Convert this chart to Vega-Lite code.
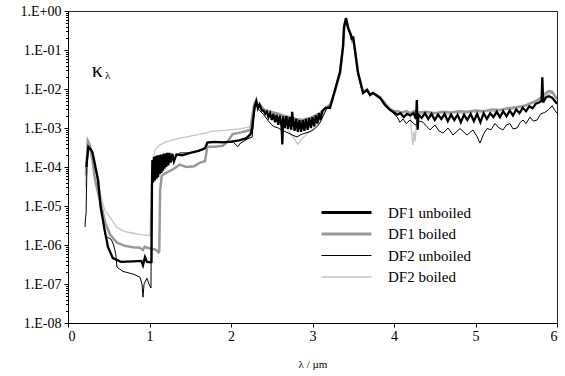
{
  "$schema": "https://vega.github.io/schema/vega-lite/v6.json",
  "width": 489,
  "height": 312,
  "autosize": {"type": "none"},
  "padding": {"left": 68, "top": 11, "right": 8, "bottom": 53},
  "background": "white",
  "config": {
    "view": {"stroke": "#222", "strokeWidth": 1},
    "font": "Times New Roman",
    "axis": {"labelFont": "Times New Roman", "titleFont": "Times New Roman", "labelColor": "black", "titleColor": "black", "domainColor": "black", "tickColor": "black", "grid": false, "titleFontWeight": "normal"},
    "legend": {"labelFont": "Times New Roman"},
    "text": {"font": "Times New Roman"}
  },
  "data": {"values": [
    {"s":"DF2 boiled","x":0.215,"k":3e-5},{"s":"DF2 boiled","x":0.235,"k":5.5e-4},{"s":"DF2 boiled","x":0.26,"k":4.5e-4},{"s":"DF2 boiled","x":0.29,"k":2e-4},{"s":"DF2 boiled","x":0.33,"k":6e-5},{"s":"DF2 boiled","x":0.393,"k":2.15e-5},{"s":"DF2 boiled","x":0.45,"k":8e-6},{"s":"DF2 boiled","x":0.515,"k":5.2e-6},{"s":"DF2 boiled","x":0.6,"k":2.8e-6},{"s":"DF2 boiled","x":0.7,"k":2.2e-6},{"s":"DF2 boiled","x":0.8,"k":2.0e-6},{"s":"DF2 boiled","x":0.9,"k":1.85e-6},{"s":"DF2 boiled","x":1.006,"k":1.75e-6},{"s":"DF2 boiled","x":1.02,"k":2e-5},{"s":"DF2 boiled","x":1.04,"k":1.5e-4},{"s":"DF2 boiled","x":1.07,"k":2.8e-4},{"s":"DF2 boiled","x":1.13,"k":3.7e-4},{"s":"DF2 boiled","x":1.2,"k":4.4e-4},{"s":"DF2 boiled","x":1.3,"k":5.0e-4},{"s":"DF2 boiled","x":1.374,"k":5.5e-4},{"s":"DF2 boiled","x":1.5,"k":6.2e-4},{"s":"DF2 boiled","x":1.7,"k":7.5e-4},{"s":"DF2 boiled","x":1.75,"k":8.2e-4},{"s":"DF2 boiled","x":1.95,"k":8.8e-4},{"s":"DF2 boiled","x":2.1,"k":9.5e-4},{"s":"DF2 boiled","x":2.233,"k":1.06e-3},{"s":"DF2 boiled","x":2.26,"k":2.5e-3},{"s":"DF2 boiled","x":2.28,"k":4.5e-3},{"s":"DF2 boiled","x":2.3,"k":5.0e-3},{"s":"DF2 boiled","x":2.32,"k":3.8e-3},{"s":"DF2 boiled","x":2.35,"k":4.2e-3},{"s":"DF2 boiled","x":2.4,"k":3.0e-3},{"s":"DF2 boiled","x":2.5,"k":2.0e-3},{"s":"DF2 boiled","x":2.6,"k":1.3e-3},{"s":"DF2 boiled","x":2.7,"k":9e-4},{"s":"DF2 boiled","x":2.76,"k":6e-4},{"s":"DF2 boiled","x":2.82,"k":3.8e-4},{"s":"DF2 boiled","x":2.88,"k":5.5e-4},{"s":"DF2 boiled","x":2.95,"k":7.5e-4},{"s":"DF2 boiled","x":3.02,"k":1.0e-3},{"s":"DF2 boiled","x":3.08,"k":1.5e-3},{"s":"DF2 boiled","x":3.14,"k":2.6e-3},{"s":"DF2 boiled","x":3.19,"k":3.6e-3},{"s":"DF2 boiled","x":3.25,"k":6e-3},{"s":"DF2 boiled","x":3.3,"k":0.014},{"s":"DF2 boiled","x":3.34,"k":0.03},{"s":"DF2 boiled","x":3.374,"k":0.12},{"s":"DF2 boiled","x":3.39,"k":0.4},{"s":"DF2 boiled","x":3.411,"k":0.64},{"s":"DF2 boiled","x":3.436,"k":0.38},{"s":"DF2 boiled","x":3.472,"k":0.25},{"s":"DF2 boiled","x":3.485,"k":0.19},{"s":"DF2 boiled","x":3.5,"k":0.22},{"s":"DF2 boiled","x":3.521,"k":0.1},{"s":"DF2 boiled","x":3.558,"k":0.027},{"s":"DF2 boiled","x":3.62,"k":0.0085},{"s":"DF2 boiled","x":3.669,"k":0.0095},{"s":"DF2 boiled","x":3.706,"k":0.0072},{"s":"DF2 boiled","x":3.742,"k":0.008},{"s":"DF2 boiled","x":3.828,"k":0.006},{"s":"DF2 boiled","x":3.89,"k":0.0042},{"s":"DF2 boiled","x":3.95,"k":0.0031},{"s":"DF2 boiled","x":4.05,"k":0.0026},{"s":"DF2 boiled","x":4.15,"k":0.0024},{"s":"DF2 boiled","x":4.2,"k":0.0022},{"s":"DF2 boiled","x":4.22,"k":0.0006},{"s":"DF2 boiled","x":4.233,"k":0.00037},{"s":"DF2 boiled","x":4.245,"k":0.0008},{"s":"DF2 boiled","x":4.26,"k":0.00045},{"s":"DF2 boiled","x":4.28,"k":0.0018},{"s":"DF2 boiled","x":4.35,"k":0.0024},{"s":"DF2 boiled","x":4.45,"k":0.0022},{"s":"DF2 boiled","x":4.55,"k":0.0025},{"s":"DF2 boiled","x":4.65,"k":0.0022},{"s":"DF2 boiled","x":4.75,"k":0.0025},{"s":"DF2 boiled","x":4.85,"k":0.0023},{"s":"DF2 boiled","x":4.95,"k":0.0026},{"s":"DF2 boiled","x":5.05,"k":0.0024},{"s":"DF2 boiled","x":5.15,"k":0.0027},{"s":"DF2 boiled","x":5.25,"k":0.0026},{"s":"DF2 boiled","x":5.35,"k":0.003},{"s":"DF2 boiled","x":5.45,"k":0.003},{"s":"DF2 boiled","x":5.55,"k":0.0034},{"s":"DF2 boiled","x":5.65,"k":0.004},{"s":"DF2 boiled","x":5.7,"k":0.0045},{"s":"DF2 boiled","x":5.8,"k":0.0055},{"s":"DF2 boiled","x":5.9,"k":0.0075},{"s":"DF2 boiled","x":5.95,"k":0.008},{"s":"DF2 boiled","x":6.0,"k":0.006},

    {"s":"DF1 boiled","x":0.22,"k":6e-5},{"s":"DF1 boiled","x":0.245,"k":4.5e-4},{"s":"DF1 boiled","x":0.27,"k":3.5e-4},{"s":"DF1 boiled","x":0.3,"k":1.5e-4},{"s":"DF1 boiled","x":0.33,"k":5e-5},{"s":"DF1 boiled","x":0.37,"k":2.1e-5},{"s":"DF1 boiled","x":0.42,"k":8e-6},{"s":"DF1 boiled","x":0.46,"k":3.5e-6},{"s":"DF1 boiled","x":0.52,"k":1.8e-6},{"s":"DF1 boiled","x":0.6,"k":1.15e-6},{"s":"DF1 boiled","x":0.7,"k":9.5e-7},{"s":"DF1 boiled","x":0.8,"k":8.8e-7},{"s":"DF1 boiled","x":0.88,"k":8.5e-7},{"s":"DF1 boiled","x":0.92,"k":7.5e-7},{"s":"DF1 boiled","x":0.94,"k":9e-7},{"s":"DF1 boiled","x":0.97,"k":8.5e-7},{"s":"DF1 boiled","x":1.03,"k":8.0e-7},{"s":"DF1 boiled","x":1.08,"k":7.5e-7},{"s":"DF1 boiled","x":1.11,"k":6.5e-7},{"s":"DF1 boiled","x":1.12,"k":7e-7},{"s":"DF1 boiled","x":1.13,"k":2.5e-5},{"s":"DF1 boiled","x":1.15,"k":6e-5},{"s":"DF1 boiled","x":1.2,"k":7e-5},{"s":"DF1 boiled","x":1.25,"k":8e-5},{"s":"DF1 boiled","x":1.3,"k":9e-5},{"s":"DF1 boiled","x":1.37,"k":1.15e-4},{"s":"DF1 boiled","x":1.45,"k":1.0e-4},{"s":"DF1 boiled","x":1.55,"k":1.05e-4},{"s":"DF1 boiled","x":1.62,"k":1.3e-4},{"s":"DF1 boiled","x":1.68,"k":1.4e-4},{"s":"DF1 boiled","x":1.71,"k":3.3e-4},{"s":"DF1 boiled","x":1.8,"k":3.3e-4},{"s":"DF1 boiled","x":1.9,"k":3.5e-4},{"s":"DF1 boiled","x":1.96,"k":4.5e-4},{"s":"DF1 boiled","x":2.02,"k":7.0e-4},{"s":"DF1 boiled","x":2.1,"k":7.5e-4},{"s":"DF1 boiled","x":2.2,"k":8.5e-4},{"s":"DF1 boiled","x":2.24,"k":9e-4},{"s":"DF1 boiled","x":2.27,"k":2.5e-3},{"s":"DF1 boiled","x":2.29,"k":4.0e-3},{"s":"DF1 boiled","x":2.31,"k":5.2e-3},{"s":"DF1 boiled","x":2.33,"k":3.5e-3},{"s":"DF1 boiled","x":2.36,"k":3.8e-3},{"s":"DF1 boiled","x":2.4,"k":3.0e-3},{"s":"DF1 boiled","x":2.48,"k":2.6e-3},{"s":"DF1 boiled","x":2.56,"k":2.4e-3},{"s":"DF1 boiled","x":2.64,"k":2.1e-3},{"s":"DF1 boiled","x":2.72,"k":1.9e-3},{"s":"DF1 boiled","x":2.8,"k":1.7e-3},{"s":"DF1 boiled","x":2.88,"k":1.6e-3},{"s":"DF1 boiled","x":2.96,"k":1.8e-3},{"s":"DF1 boiled","x":3.04,"k":2.1e-3},{"s":"DF1 boiled","x":3.1,"k":2.5e-3},{"s":"DF1 boiled","x":3.16,"k":3.3e-3},{"s":"DF1 boiled","x":3.22,"k":4.0e-3},{"s":"DF1 boiled","x":3.28,"k":9.4e-3},{"s":"DF1 boiled","x":3.34,"k":0.027},{"s":"DF1 boiled","x":3.375,"k":0.12},{"s":"DF1 boiled","x":3.39,"k":0.39},{"s":"DF1 boiled","x":3.41,"k":0.62},{"s":"DF1 boiled","x":3.44,"k":0.37},{"s":"DF1 boiled","x":3.47,"k":0.24},{"s":"DF1 boiled","x":3.485,"k":0.18},{"s":"DF1 boiled","x":3.5,"k":0.22},{"s":"DF1 boiled","x":3.52,"k":0.1},{"s":"DF1 boiled","x":3.56,"k":0.026},{"s":"DF1 boiled","x":3.62,"k":0.0085},{"s":"DF1 boiled","x":3.67,"k":0.0098},{"s":"DF1 boiled","x":3.71,"k":0.0072},{"s":"DF1 boiled","x":3.74,"k":0.0079},{"s":"DF1 boiled","x":3.83,"k":0.0062},{"s":"DF1 boiled","x":3.89,"k":0.0043},{"s":"DF1 boiled","x":3.95,"k":0.0031},{"s":"DF1 boiled","x":4.0,"k":0.0027},{"s":"DF1 boiled","x":4.05,"k":0.0027},{"s":"DF1 boiled","x":4.1,"k":0.0025},{"s":"DF1 boiled","x":4.15,"k":0.0027},{"s":"DF1 boiled","x":4.2,"k":0.0024},{"s":"DF1 boiled","x":4.25,"k":0.0027},{"s":"DF1 boiled","x":4.3,"k":0.0025},{"s":"DF1 boiled","x":4.4,"k":0.0026},{"s":"DF1 boiled","x":4.5,"k":0.0024},{"s":"DF1 boiled","x":4.6,"k":0.0026},{"s":"DF1 boiled","x":4.7,"k":0.0025},{"s":"DF1 boiled","x":4.8,"k":0.0027},{"s":"DF1 boiled","x":4.9,"k":0.0026},{"s":"DF1 boiled","x":5.0,"k":0.0028},{"s":"DF1 boiled","x":5.1,"k":0.0027},{"s":"DF1 boiled","x":5.2,"k":0.003},{"s":"DF1 boiled","x":5.3,"k":0.0029},{"s":"DF1 boiled","x":5.4,"k":0.0032},{"s":"DF1 boiled","x":5.5,"k":0.0034},{"s":"DF1 boiled","x":5.6,"k":0.0037},{"s":"DF1 boiled","x":5.7,"k":0.0045},{"s":"DF1 boiled","x":5.75,"k":0.005},{"s":"DF1 boiled","x":5.8,"k":0.006},{"s":"DF1 boiled","x":5.85,"k":0.0075},{"s":"DF1 boiled","x":5.9,"k":0.0088},{"s":"DF1 boiled","x":5.94,"k":0.0085},{"s":"DF1 boiled","x":5.97,"k":0.0068},{"s":"DF1 boiled","x":6.0,"k":0.0055},

    {"s":"DF2 unboiled","x":0.209,"k":2.9e-6},{"s":"DF2 unboiled","x":0.215,"k":5e-6},{"s":"DF2 unboiled","x":0.222,"k":6.6e-6},{"s":"DF2 unboiled","x":0.232,"k":1e-4},{"s":"DF2 unboiled","x":0.245,"k":3.0e-4},{"s":"DF2 unboiled","x":0.26,"k":3.2e-4},{"s":"DF2 unboiled","x":0.28,"k":2.6e-4},{"s":"DF2 unboiled","x":0.3,"k":2.3e-4},{"s":"DF2 unboiled","x":0.36,"k":5e-5},{"s":"DF2 unboiled","x":0.4,"k":1.2e-5},{"s":"DF2 unboiled","x":0.43,"k":4e-6},{"s":"DF2 unboiled","x":0.454,"k":1.8e-6},{"s":"DF2 unboiled","x":0.49,"k":1.55e-6},{"s":"DF2 unboiled","x":0.53,"k":1.4e-6},{"s":"DF2 unboiled","x":0.56,"k":1.0e-6},{"s":"DF2 unboiled","x":0.585,"k":6e-7},{"s":"DF2 unboiled","x":0.601,"k":2.7e-7},{"s":"DF2 unboiled","x":0.675,"k":2.1e-7},{"s":"DF2 unboiled","x":0.798,"k":1.8e-7},{"s":"DF2 unboiled","x":0.883,"k":1.5e-7},{"s":"DF2 unboiled","x":0.908,"k":1.0e-7},{"s":"DF2 unboiled","x":0.92,"k":4.6e-8},{"s":"DF2 unboiled","x":0.933,"k":1.0e-7},{"s":"DF2 unboiled","x":0.969,"k":1.4e-7},{"s":"DF2 unboiled","x":0.994,"k":1.0e-7},{"s":"DF2 unboiled","x":1.018,"k":7.9e-8},{"s":"DF2 unboiled","x":1.025,"k":3e-5},{"s":"DF2 unboiled","x":1.04,"k":6e-5},{"s":"DF2 unboiled","x":1.06,"k":1.2e-4},{"s":"DF2 unboiled","x":1.1,"k":9e-5},{"s":"DF2 unboiled","x":1.15,"k":1.4e-4},{"s":"DF2 unboiled","x":1.2,"k":1.3e-4},{"s":"DF2 unboiled","x":1.3,"k":1.6e-4},{"s":"DF2 unboiled","x":1.37,"k":2.3e-4},{"s":"DF2 unboiled","x":1.5,"k":2.3e-4},{"s":"DF2 unboiled","x":1.62,"k":2.6e-4},{"s":"DF2 unboiled","x":1.68,"k":3.0e-4},{"s":"DF2 unboiled","x":1.72,"k":4.4e-4},{"s":"DF2 unboiled","x":1.85,"k":4.4e-4},{"s":"DF2 unboiled","x":1.95,"k":4.3e-4},{"s":"DF2 unboiled","x":2.03,"k":4.3e-4},{"s":"DF2 unboiled","x":2.086,"k":3.3e-4},{"s":"DF2 unboiled","x":2.11,"k":4.0e-4},{"s":"DF2 unboiled","x":2.2,"k":5.2e-4},{"s":"DF2 unboiled","x":2.26,"k":5.9e-4},{"s":"DF2 unboiled","x":2.28,"k":2e-3},{"s":"DF2 unboiled","x":2.3,"k":4.0e-3},{"s":"DF2 unboiled","x":2.32,"k":3.5e-3},{"s":"DF2 unboiled","x":2.34,"k":3.0e-3},{"s":"DF2 unboiled","x":2.4,"k":2.2e-3},{"s":"DF2 unboiled","x":2.46,"k":1.5e-3},{"s":"DF2 unboiled","x":2.52,"k":1.1e-3},{"s":"DF2 unboiled","x":2.58,"k":1.0e-3},{"s":"DF2 unboiled","x":2.64,"k":8.5e-4},{"s":"DF2 unboiled","x":2.7,"k":7.5e-4},{"s":"DF2 unboiled","x":2.76,"k":6.5e-4},{"s":"DF2 unboiled","x":2.81,"k":5.9e-4},{"s":"DF2 unboiled","x":2.86,"k":6.8e-4},{"s":"DF2 unboiled","x":2.92,"k":7.5e-4},{"s":"DF2 unboiled","x":2.97,"k":8.0e-4},{"s":"DF2 unboiled","x":3.01,"k":9.0e-4},{"s":"DF2 unboiled","x":3.06,"k":1.1e-3},{"s":"DF2 unboiled","x":3.09,"k":1.35e-3},{"s":"DF2 unboiled","x":3.13,"k":2.0e-3},{"s":"DF2 unboiled","x":3.18,"k":3.4e-3},{"s":"DF2 unboiled","x":3.22,"k":3.6e-3},{"s":"DF2 unboiled","x":3.276,"k":9.4e-3},{"s":"DF2 unboiled","x":3.337,"k":0.027},{"s":"DF2 unboiled","x":3.374,"k":0.12},{"s":"DF2 unboiled","x":3.387,"k":0.39},{"s":"DF2 unboiled","x":3.411,"k":0.66},{"s":"DF2 unboiled","x":3.436,"k":0.37},{"s":"DF2 unboiled","x":3.472,"k":0.24},{"s":"DF2 unboiled","x":3.485,"k":0.18},{"s":"DF2 unboiled","x":3.497,"k":0.22},{"s":"DF2 unboiled","x":3.521,"k":0.1},{"s":"DF2 unboiled","x":3.558,"k":0.026},{"s":"DF2 unboiled","x":3.62,"k":0.0079},{"s":"DF2 unboiled","x":3.669,"k":0.0094},{"s":"DF2 unboiled","x":3.706,"k":0.007},{"s":"DF2 unboiled","x":3.742,"k":0.0079},{"s":"DF2 unboiled","x":3.828,"k":0.0059},{"s":"DF2 unboiled","x":3.9,"k":0.0035},{"s":"DF2 unboiled","x":3.95,"k":0.0029},{"s":"DF2 unboiled","x":4.0,"k":0.0023},{"s":"DF2 unboiled","x":4.04,"k":0.0019},{"s":"DF2 unboiled","x":4.074,"k":0.0014},{"s":"DF2 unboiled","x":4.11,"k":0.0017},{"s":"DF2 unboiled","x":4.15,"k":0.0013},{"s":"DF2 unboiled","x":4.196,"k":0.0016},{"s":"DF2 unboiled","x":4.26,"k":0.0012},{"s":"DF2 unboiled","x":4.32,"k":0.0015},{"s":"DF2 unboiled","x":4.357,"k":0.0014},{"s":"DF2 unboiled","x":4.4,"k":0.0011},{"s":"DF2 unboiled","x":4.442,"k":0.0009},{"s":"DF2 unboiled","x":4.503,"k":0.00119},{"s":"DF2 unboiled","x":4.55,"k":0.00085},{"s":"DF2 unboiled","x":4.6,"k":0.00074},{"s":"DF2 unboiled","x":4.663,"k":0.001},{"s":"DF2 unboiled","x":4.724,"k":0.00066},{"s":"DF2 unboiled","x":4.81,"k":0.00097},{"s":"DF2 unboiled","x":4.896,"k":0.00066},{"s":"DF2 unboiled","x":4.969,"k":0.00089},{"s":"DF2 unboiled","x":5.02,"k":0.0006},{"s":"DF2 unboiled","x":5.055,"k":0.00041},{"s":"DF2 unboiled","x":5.1,"k":0.0007},{"s":"DF2 unboiled","x":5.141,"k":0.00097},{"s":"DF2 unboiled","x":5.19,"k":0.0009},{"s":"DF2 unboiled","x":5.239,"k":0.0013},{"s":"DF2 unboiled","x":5.29,"k":0.001},{"s":"DF2 unboiled","x":5.337,"k":0.00089},{"s":"DF2 unboiled","x":5.38,"k":0.0012},{"s":"DF2 unboiled","x":5.423,"k":0.0013},{"s":"DF2 unboiled","x":5.46,"k":0.00095},{"s":"DF2 unboiled","x":5.509,"k":0.001},{"s":"DF2 unboiled","x":5.55,"k":0.0014},{"s":"DF2 unboiled","x":5.583,"k":0.0016},{"s":"DF2 unboiled","x":5.62,"k":0.0013},{"s":"DF2 unboiled","x":5.669,"k":0.0019},{"s":"DF2 unboiled","x":5.71,"k":0.0015},{"s":"DF2 unboiled","x":5.755,"k":0.0016},{"s":"DF2 unboiled","x":5.8,"k":0.0023},{"s":"DF2 unboiled","x":5.85,"k":0.0025},{"s":"DF2 unboiled","x":5.9,"k":0.003},{"s":"DF2 unboiled","x":5.94,"k":0.0037},{"s":"DF2 unboiled","x":5.97,"k":0.0029},{"s":"DF2 unboiled","x":6.0,"k":0.0024},

    {"s":"DF1 unboiled","x":0.225,"k":1.0e-4},{"s":"DF1 unboiled","x":0.25,"k":3.3e-4},{"s":"DF1 unboiled","x":0.27,"k":3.0e-4},{"s":"DF1 unboiled","x":0.3,"k":2.4e-4},{"s":"DF1 unboiled","x":0.37,"k":4.6e-5},{"s":"DF1 unboiled","x":0.4,"k":9.5e-6},{"s":"DF1 unboiled","x":0.45,"k":2.4e-6},{"s":"DF1 unboiled","x":0.49,"k":8.9e-7},{"s":"DF1 unboiled","x":0.55,"k":4.6e-7},{"s":"DF1 unboiled","x":0.65,"k":3.7e-7},{"s":"DF1 unboiled","x":0.8,"k":3.8e-7},{"s":"DF1 unboiled","x":0.9,"k":3.9e-7},{"s":"DF1 unboiled","x":0.92,"k":3.0e-7},{"s":"DF1 unboiled","x":0.945,"k":4.9e-7},{"s":"DF1 unboiled","x":0.97,"k":3.7e-7},{"s":"DF1 unboiled","x":1.01,"k":3.6e-7},{"s":"DF1 unboiled","x":1.025,"k":3.7e-7},{"s":"DF1 unboiled","x":1.03,"k":3.0e-5},
    {"s":"DF1 unboiled","x":1.035,"k":1.5e-4},{"s":"DF1 unboiled","x":1.045,"k":4e-5},{"s":"DF1 unboiled","x":1.055,"k":1.8e-4},{"s":"DF1 unboiled","x":1.065,"k":4.5e-5},{"s":"DF1 unboiled","x":1.075,"k":1.9e-4},{"s":"DF1 unboiled","x":1.085,"k":5e-5},{"s":"DF1 unboiled","x":1.095,"k":2.0e-4},{"s":"DF1 unboiled","x":1.105,"k":5.5e-5},{"s":"DF1 unboiled","x":1.115,"k":2.0e-4},{"s":"DF1 unboiled","x":1.125,"k":6.5e-5},{"s":"DF1 unboiled","x":1.135,"k":2.1e-4},{"s":"DF1 unboiled","x":1.145,"k":7e-5},{"s":"DF1 unboiled","x":1.155,"k":2.1e-4},{"s":"DF1 unboiled","x":1.165,"k":8e-5},{"s":"DF1 unboiled","x":1.175,"k":2.2e-4},{"s":"DF1 unboiled","x":1.185,"k":9e-5},{"s":"DF1 unboiled","x":1.195,"k":2.2e-4},{"s":"DF1 unboiled","x":1.205,"k":1.0e-4},{"s":"DF1 unboiled","x":1.215,"k":2.3e-4},{"s":"DF1 unboiled","x":1.23,"k":1.1e-4},{"s":"DF1 unboiled","x":1.245,"k":2.3e-4},{"s":"DF1 unboiled","x":1.26,"k":1.3e-4},{"s":"DF1 unboiled","x":1.28,"k":2.2e-4},{"s":"DF1 unboiled","x":1.3,"k":1.4e-4},{"s":"DF1 unboiled","x":1.33,"k":2.1e-4},
    {"s":"DF1 unboiled","x":1.4,"k":2.0e-4},{"s":"DF1 unboiled","x":1.5,"k":2.3e-4},{"s":"DF1 unboiled","x":1.6,"k":2.6e-4},{"s":"DF1 unboiled","x":1.68,"k":3.0e-4},{"s":"DF1 unboiled","x":1.71,"k":4.2e-4},{"s":"DF1 unboiled","x":1.8,"k":4.4e-4},{"s":"DF1 unboiled","x":1.9,"k":4.3e-4},{"s":"DF1 unboiled","x":2.0,"k":4.5e-4},{"s":"DF1 unboiled","x":2.1,"k":4.8e-4},{"s":"DF1 unboiled","x":2.19,"k":5.5e-4},{"s":"DF1 unboiled","x":2.24,"k":7e-4},{"s":"DF1 unboiled","x":2.26,"k":1.0e-3},{"s":"DF1 unboiled","x":2.29,"k":3.5e-3},{"s":"DF1 unboiled","x":2.31,"k":4.8e-3},{"s":"DF1 unboiled","x":2.33,"k":3.2e-3},{"s":"DF1 unboiled","x":2.35,"k":4.0e-3},{"s":"DF1 unboiled","x":2.38,"k":2.8e-3},
    {"s":"DF1 unboiled","x":2.4,"k":2.8e-3},{"s":"DF1 unboiled","x":2.42,"k":2.3e-3},{"s":"DF1 unboiled","x":2.44,"k":2.6e-3},{"s":"DF1 unboiled","x":2.46,"k":1.9e-3},{"s":"DF1 unboiled","x":2.48,"k":2.4e-3},{"s":"DF1 unboiled","x":2.5,"k":1.6e-3},{"s":"DF1 unboiled","x":2.52,"k":2.3e-3},{"s":"DF1 unboiled","x":2.54,"k":1.4e-3},{"s":"DF1 unboiled","x":2.56,"k":2.2e-3},{"s":"DF1 unboiled","x":2.58,"k":1.2e-3},{"s":"DF1 unboiled","x":2.6,"k":2.1e-3},{"s":"DF1 unboiled","x":2.62,"k":1.1e-3},{"s":"DF1 unboiled","x":2.63,"k":3.8e-4},{"s":"DF1 unboiled","x":2.64,"k":2.0e-3},{"s":"DF1 unboiled","x":2.66,"k":1.0e-3},{"s":"DF1 unboiled","x":2.68,"k":2.0e-3},{"s":"DF1 unboiled","x":2.7,"k":9.5e-4},{"s":"DF1 unboiled","x":2.72,"k":1.9e-3},{"s":"DF1 unboiled","x":2.74,"k":9e-4},{"s":"DF1 unboiled","x":2.75,"k":2.6e-3},{"s":"DF1 unboiled","x":2.76,"k":1.8e-3},{"s":"DF1 unboiled","x":2.78,"k":8.5e-4},{"s":"DF1 unboiled","x":2.8,"k":1.7e-3},{"s":"DF1 unboiled","x":2.82,"k":8e-4},{"s":"DF1 unboiled","x":2.84,"k":1.6e-3},{"s":"DF1 unboiled","x":2.86,"k":8e-4},{"s":"DF1 unboiled","x":2.88,"k":1.6e-3},{"s":"DF1 unboiled","x":2.9,"k":8.5e-4},{"s":"DF1 unboiled","x":2.92,"k":1.7e-3},{"s":"DF1 unboiled","x":2.94,"k":9e-4},{"s":"DF1 unboiled","x":2.96,"k":1.8e-3},{"s":"DF1 unboiled","x":2.98,"k":1.0e-3},{"s":"DF1 unboiled","x":3.0,"k":1.9e-3},{"s":"DF1 unboiled","x":3.02,"k":1.1e-3},{"s":"DF1 unboiled","x":3.04,"k":2.1e-3},{"s":"DF1 unboiled","x":3.06,"k":1.3e-3},{"s":"DF1 unboiled","x":3.08,"k":2.4e-3},{"s":"DF1 unboiled","x":3.1,"k":1.6e-3},{"s":"DF1 unboiled","x":3.12,"k":2.7e-3},
    {"s":"DF1 unboiled","x":3.16,"k":3.3e-3},{"s":"DF1 unboiled","x":3.215,"k":3.3e-3},{"s":"DF1 unboiled","x":3.276,"k":9.4e-3},{"s":"DF1 unboiled","x":3.337,"k":0.027},{"s":"DF1 unboiled","x":3.374,"k":0.12},{"s":"DF1 unboiled","x":3.387,"k":0.39},{"s":"DF1 unboiled","x":3.411,"k":0.66},{"s":"DF1 unboiled","x":3.436,"k":0.37},{"s":"DF1 unboiled","x":3.472,"k":0.24},{"s":"DF1 unboiled","x":3.485,"k":0.18},{"s":"DF1 unboiled","x":3.497,"k":0.22},{"s":"DF1 unboiled","x":3.521,"k":0.1},{"s":"DF1 unboiled","x":3.558,"k":0.026},{"s":"DF1 unboiled","x":3.62,"k":0.0079},{"s":"DF1 unboiled","x":3.669,"k":0.0094},{"s":"DF1 unboiled","x":3.706,"k":0.007},{"s":"DF1 unboiled","x":3.742,"k":0.0079},{"s":"DF1 unboiled","x":3.828,"k":0.0059},{"s":"DF1 unboiled","x":3.89,"k":0.0039},{"s":"DF1 unboiled","x":3.951,"k":0.0029},
    {"s":"DF1 unboiled","x":4.0,"k":0.0025},{"s":"DF1 unboiled","x":4.04,"k":0.0022},{"s":"DF1 unboiled","x":4.08,"k":0.0024},{"s":"DF1 unboiled","x":4.12,"k":0.0019},{"s":"DF1 unboiled","x":4.16,"k":0.0023},{"s":"DF1 unboiled","x":4.2,"k":0.0021},{"s":"DF1 unboiled","x":4.24,"k":0.0024},{"s":"DF1 unboiled","x":4.27,"k":0.0017},{"s":"DF1 unboiled","x":4.28,"k":0.0052},{"s":"DF1 unboiled","x":4.29,"k":0.0009},{"s":"DF1 unboiled","x":4.3,"k":0.0022},{"s":"DF1 unboiled","x":4.34,"k":0.0018},{"s":"DF1 unboiled","x":4.38,"k":0.0024},{"s":"DF1 unboiled","x":4.42,"k":0.0017},{"s":"DF1 unboiled","x":4.46,"k":0.0023},{"s":"DF1 unboiled","x":4.5,"k":0.0016},{"s":"DF1 unboiled","x":4.54,"k":0.0022},{"s":"DF1 unboiled","x":4.58,"k":0.0017},{"s":"DF1 unboiled","x":4.62,"k":0.0023},{"s":"DF1 unboiled","x":4.66,"k":0.0015},{"s":"DF1 unboiled","x":4.7,"k":0.0022},{"s":"DF1 unboiled","x":4.74,"k":0.0016},{"s":"DF1 unboiled","x":4.78,"k":0.0022},{"s":"DF1 unboiled","x":4.82,"k":0.0014},{"s":"DF1 unboiled","x":4.86,"k":0.0022},{"s":"DF1 unboiled","x":4.9,"k":0.0016},{"s":"DF1 unboiled","x":4.94,"k":0.0023},{"s":"DF1 unboiled","x":4.98,"k":0.0015},{"s":"DF1 unboiled","x":5.02,"k":0.0023},{"s":"DF1 unboiled","x":5.06,"k":0.0014},{"s":"DF1 unboiled","x":5.1,"k":0.0024},{"s":"DF1 unboiled","x":5.14,"k":0.0017},{"s":"DF1 unboiled","x":5.18,"k":0.0024},{"s":"DF1 unboiled","x":5.22,"k":0.0019},{"s":"DF1 unboiled","x":5.26,"k":0.0026},{"s":"DF1 unboiled","x":5.3,"k":0.0019},{"s":"DF1 unboiled","x":5.34,"k":0.0027},{"s":"DF1 unboiled","x":5.38,"k":0.002},{"s":"DF1 unboiled","x":5.42,"k":0.0028},{"s":"DF1 unboiled","x":5.46,"k":0.0021},{"s":"DF1 unboiled","x":5.5,"k":0.003},{"s":"DF1 unboiled","x":5.54,"k":0.0024},{"s":"DF1 unboiled","x":5.58,"k":0.0033},{"s":"DF1 unboiled","x":5.62,"k":0.0027},{"s":"DF1 unboiled","x":5.66,"k":0.0036},{"s":"DF1 unboiled","x":5.7,"k":0.0032},{"s":"DF1 unboiled","x":5.74,"k":0.0042},{"s":"DF1 unboiled","x":5.78,"k":0.0045},{"s":"DF1 unboiled","x":5.81,"k":0.005},{"s":"DF1 unboiled","x":5.82,"k":0.02},{"s":"DF1 unboiled","x":5.83,"k":0.0045},{"s":"DF1 unboiled","x":5.86,"k":0.006},{"s":"DF1 unboiled","x":5.9,"k":0.0065},{"s":"DF1 unboiled","x":5.94,"k":0.006},{"s":"DF1 unboiled","x":5.97,"k":0.005},{"s":"DF1 unboiled","x":6.0,"k":0.0042}
  ]},
  "layer": [
    {
      "transform": [{"filter": "datum.s === 'DF2 boiled'"}],
      "mark": {"type": "line", "clip": true, "strokeWidth": 1.3},
      "encoding": {
        "x": {"field": "x", "type": "quantitative", "scale": {"domain": [0, 6], "nice": false}, "axis": {"values": [0,1,2,3,4,5,6], "title": "λ / µm", "labelFont": "Times New Roman", "titleFont": "Times New Roman", "labelFontSize": 14, "titleFontSize": 11, "tickSize": 4, "labelPadding": 2, "titlePadding": 15, "format": "d"}},
        "y": {"field": "k", "type": "quantitative", "scale": {"type": "log", "domain": [1e-8, 1], "nice": false}, "axis": {"values": [1e-8,1e-7,1e-6,1e-5,1e-4,1e-3,1e-2,1e-1,1], "orient": "left", "title": null, "labelFont": "Times New Roman", "labelFontSize": 14, "tickSize": 4, "labelPadding": 3, "labelExpr": "'1.E' + (datum.value >= 1 ? '+' : '-') + '0' + abs(round(log(datum.value)/LN10))"}},
        "color": {"field": "s", "type": "nominal", "scale": {"domain": ["DF1 unboiled","DF1 boiled","DF2 unboiled","DF2 boiled"], "range": ["#000000","#999999","#000000","#c4c4c4"]},
          "legend": {"title": null, "orient": "none", "legendX": 271, "legendY": 194, "symbolType": "stroke", "symbolSize": 2500, "labelFont": "Times New Roman", "labelFontSize": 15, "labelColor": "black", "labelOffset": 34, "rowPadding": 5.5,
            "labelExpr": "datum.label === 'DF2 boiled' ? ' DF2 boiled' : datum.label",
            "encode": {"symbols": {"update": {"strokeWidth": {"signal": "datum.value === 'DF1 unboiled' || datum.value === 'DF1 boiled' ? 3 : datum.value === 'DF2 boiled' ? 1.5 : 1.2"}}}}}}
      }
    },
    {
      "transform": [{"filter": "datum.s === 'DF1 boiled'"}],
      "mark": {"type": "line", "clip": true, "strokeWidth": 2.5},
      "encoding": {
        "x": {"field": "x", "type": "quantitative"},
        "y": {"field": "k", "type": "quantitative", "axis": null},
        "color": {"field": "s", "type": "nominal"}
      }
    },
    {
      "transform": [{"filter": "datum.s === 'DF2 unboiled'"}],
      "mark": {"type": "line", "clip": true, "strokeWidth": 1},
      "encoding": {
        "x": {"field": "x", "type": "quantitative"},
        "y": {"field": "k", "type": "quantitative", "axis": null},
        "color": {"field": "s", "type": "nominal"}
      }
    },
    {
      "transform": [{"filter": "datum.s === 'DF1 unboiled'"}],
      "mark": {"type": "line", "clip": true, "strokeWidth": 2.3},
      "encoding": {
        "x": {"field": "x", "type": "quantitative"},
        "y": {"field": "k", "type": "quantitative", "axis": null},
        "color": {"field": "s", "type": "nominal"}
      }
    },
    {
      "data": {"values": [{"t": "κ"}]},
      "mark": {"type": "text", "font": "Times New Roman", "fontSize": 22, "align": "left", "baseline": "alphabetic", "color": "black"},
      "encoding": {
        "text": {"field": "t"},
        "x": {"datum": 0.29, "type": "quantitative"},
        "y": {"datum": 0.0203, "type": "quantitative", "axis": {"orient": "left", "values": [2e-8,3e-8,4e-8,5e-8,6e-8,7e-8,8e-8,9e-8,2e-7,3e-7,4e-7,5e-7,6e-7,7e-7,8e-7,9e-7,2e-6,3e-6,4e-6,5e-6,6e-6,7e-6,8e-6,9e-6,2e-5,3e-5,4e-5,5e-5,6e-5,7e-5,8e-5,9e-5,2e-4,3e-4,4e-4,5e-4,6e-4,7e-4,8e-4,9e-4,2e-3,3e-3,4e-3,5e-3,6e-3,7e-3,8e-3,9e-3,2e-2,3e-2,4e-2,5e-2,6e-2,7e-2,8e-2,9e-2,2e-1,3e-1,4e-1,5e-1,6e-1,7e-1,8e-1,9e-1], "labels": false, "domain": false, "tickSize": 2.5, "title": null}}
      }
    },
    {
      "data": {"values": [{"t": "λ"}]},
      "mark": {"type": "text", "font": "Times New Roman", "fontSize": 11, "align": "left", "baseline": "alphabetic", "color": "black"},
      "encoding": {
        "text": {"field": "t"},
        "x": {"datum": 0.455, "type": "quantitative"},
        "y": {"datum": 0.018, "type": "quantitative", "axis": null}
      }
    }
  ],
  "resolve": {"axis": {"y": "independent"}}
}
